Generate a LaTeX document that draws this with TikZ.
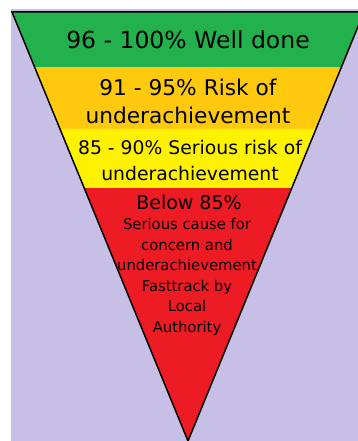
\documentclass[tikz,border=0pt]{standalone}
\usepackage{fontspec}
\setmainfont{DejaVu Sans}
\usetikzlibrary{positioning}

\definecolor{bandgreen}{HTML}{22B14C}
\definecolor{bandorange}{HTML}{FFC90E}
\definecolor{bandyellow}{HTML}{FFF200}
\definecolor{bandred}{HTML}{ED1C24}
\definecolor{paintlavender}{HTML}{C8BFE7}

\begin{document}
\begin{tikzpicture}[x=1pt, y=-1pt,
    bandtext/.style={align=center, inner sep=0pt, text=black}]
    % save the band limits (measured from the top) to macros
    \pgfmathsetmacro{\greenEnd}{67}
    \pgfmathsetmacro{\orangeEnd}{129}
    \pgfmathsetmacro{\yellowEnd}{188}

    \useasboundingbox (0,0) rectangle (358,441);
    \fill[paintlavender] (11,9) rectangle (358,441);

    % corners of the funnel
    \coordinate (topleft) at (12,12);
    \coordinate (topright) at (364,12);
    \coordinate (apex) at (188,441);

    % 1. Coloured bands, cut to the triangle
    \begin{scope}
        \clip (topleft) -- (topright) -- (apex) -- cycle;
        \fill[bandgreen] (0,0) rectangle (370,\greenEnd);
        \fill[bandorange] (0,\greenEnd) rectangle (370,\orangeEnd);
        \fill[bandyellow] (0,\orangeEnd) rectangle (370,\yellowEnd);
        \fill[bandred] (0,\yellowEnd) rectangle (370,441);
    \end{scope}

    % 2. Outline
    \draw[line width=1.5pt] (topleft) -- (topright) -- (apex) -- cycle;

    % 3. Band texts
    \node[bandtext, font=\fontsize{23.5}{28}\selectfont] (welldone) at (188,40)
      {96 - 100\% Well done};
    \node[bandtext, font=\fontsize{21.7}{28}\selectfont] (risk) at (188,101)
      {91 - 95\% Risk of\\underachievement};
    \node[bandtext, font=\fontsize{18.8}{26}\selectfont] (serious) at (190,160)
      {85 - 90\% Serious risk of\\underachievement};
    \node[bandtext, font=\fontsize{19}{23}\selectfont] (below) at (189,202)
      {Below 85\%};
    \node[bandtext, font=\fontsize{14.8}{20.6}\selectfont] (cause) at (187,277)
      {Serious cause for\\concern and\\underachievement\\Fasttrack by\\Local\\Authority};
\end{tikzpicture}
\end{document}
